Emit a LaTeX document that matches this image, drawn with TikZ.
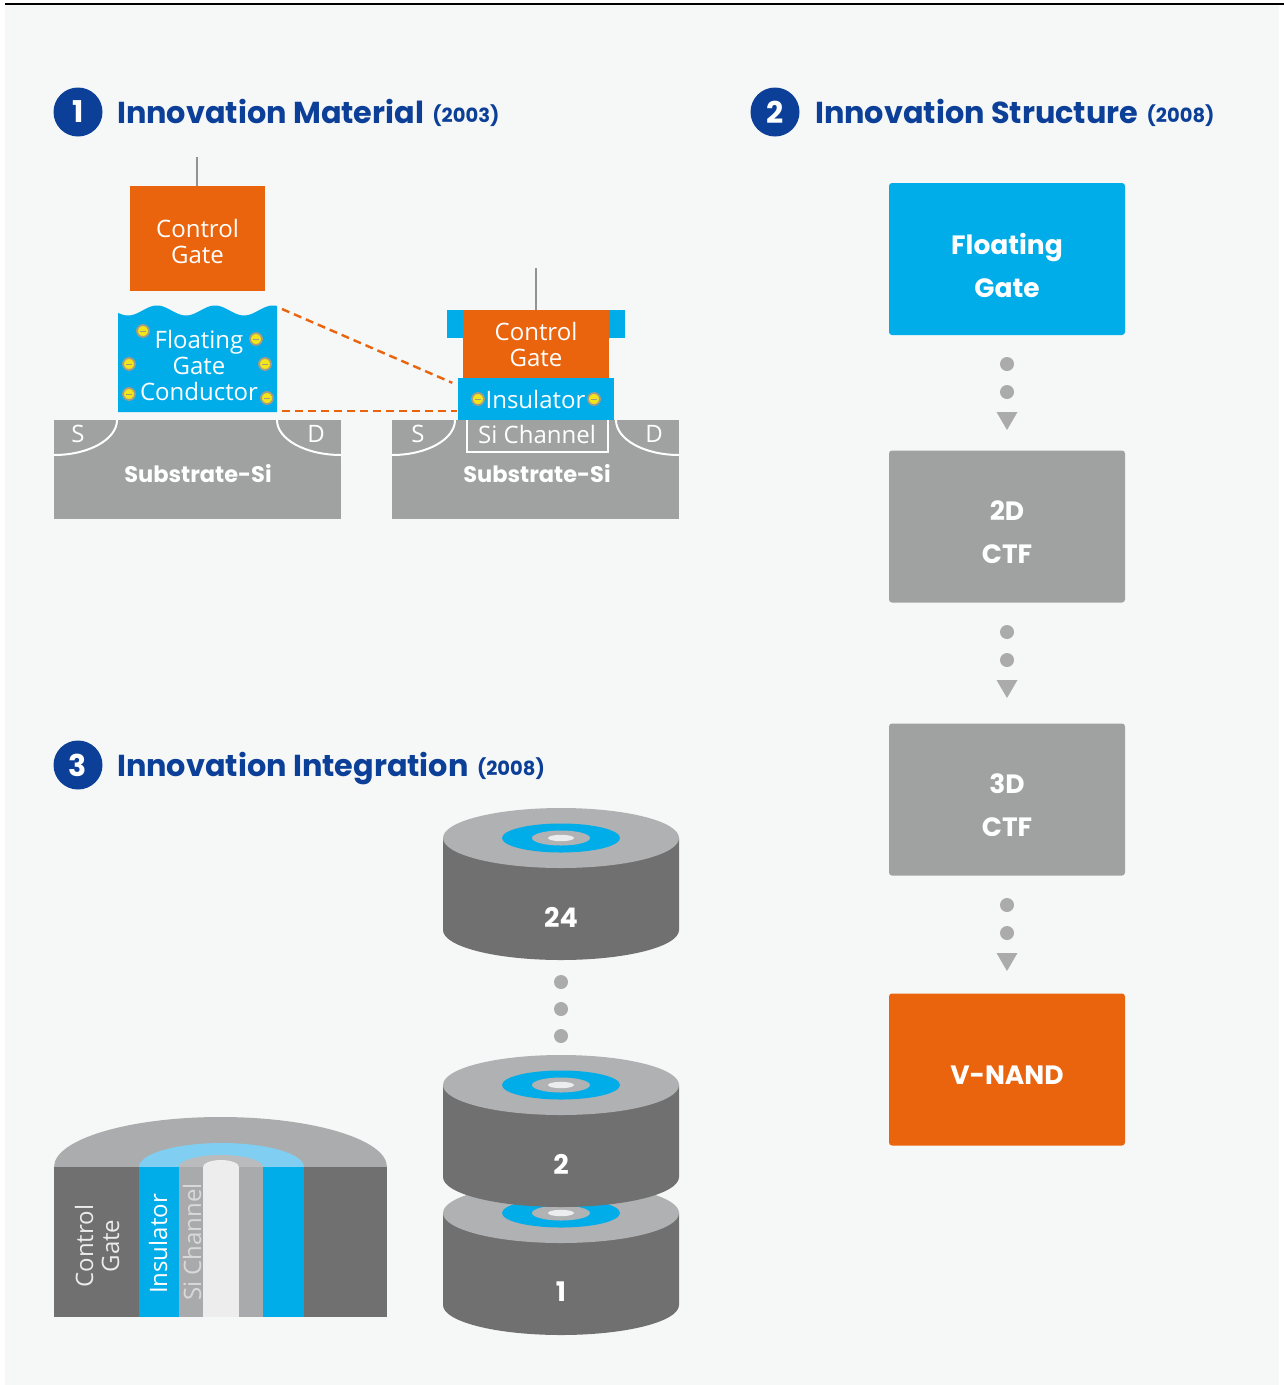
\documentclass[tikz,border=0pt]{standalone}
\usepackage{fontspec}
\setmainfont{Open Sans}
\newfontfamily\headfont{Poppins}
\usetikzlibrary{calc}

\definecolor{panelbg}{HTML}{F6F7F7}
\definecolor{headblue}{HTML}{0C3F97}
\definecolor{samorange}{HTML}{EA640E}
\definecolor{samcyan}{HTML}{00ADE9}
\definecolor{subgray}{HTML}{A0A1A1}
\definecolor{topgray}{HTML}{B0B1B2}
\definecolor{sidegray}{HTML}{707070}
\definecolor{dotgray}{HTML}{ABABAB}
\definecolor{lightcyan}{HTML}{80CEF2}
\definecolor{coregray}{HTML}{EDEDED}
\definecolor{stripgray}{HTML}{A9AAAB}
\definecolor{eyellow}{HTML}{F2E51A}
\definecolor{ering}{HTML}{A39C86}

\tikzset{
  numdisc/.style={circle, fill=headblue, minimum size=49pt, inner sep=0pt,
    text=white, font=\headfont\bfseries\fontsize{30}{30}\selectfont},
  headtext/.style={anchor=base west, text=headblue, inner sep=0pt,
    font=\headfont\bfseries\fontsize{30.3}{30}\selectfont},
  yeartext/.style={anchor=base west, text=headblue, inner sep=0pt,
    font=\headfont\bfseries\fontsize{19.5}{20}\selectfont},
  thinlabel/.style={text=white, align=center, inner sep=0pt,
    font=\fontsize{24}{26}\selectfont},
  boldlabel/.style={text=white, align=center, inner sep=0pt,
    font=\headfont\bfseries\fontsize{22.5}{26}\selectfont},
  flowbox/.style={rounded corners=3pt, minimum width=236pt, minimum height=152pt,
    inner sep=0pt},
  flowtext/.style={text=white, align=center, inner sep=0pt,
    font=\headfont\bfseries\fontsize{26.5}{43}\selectfont},
  electron/.style={circle, fill=eyellow, draw=ering, line width=1.8pt,
    minimum size=12pt, inner sep=0pt,
    path picture={\draw[ering, line width=1pt]
      ([xshift=-2.6pt]path picture bounding box.center) --
      ([xshift=2.6pt]path picture bounding box.center);}},
  junction/.style={draw=white, line width=2pt},
  linkdash/.style={draw=samorange, line width=2.4pt, dash pattern=on 8pt off 5pt},
  stepdot/.style={fill=dotgray},
  lead/.style={draw=gray!85, line width=2.4pt},
}

% one layer of the vertical stack: centre x, top-face centre y, label
\newcommand\stackdisk[3]{%
  \fill[sidegray] (#1-118,#2) -- (#1-118,#2+92)
    arc[start angle=180, end angle=0, x radius=118, y radius=30]
    -- (#1+118,#2) -- cycle;
  \fill[topgray] (#1,#2) ellipse[x radius=118, y radius=30];
  \fill[samcyan] (#1,#2) ellipse[x radius=59, y radius=14.5];
  \fill[stripgray!90!white] (#1,#2) ellipse[x radius=29, y radius=7.5];
  \fill[coregray] (#1,#2) ellipse[x radius=13, y radius=3.2];
  \node[boldlabel, font=\headfont\bfseries\fontsize{27}{28}\selectfont]
    at (#1,#2+79) {#3};
}

% the dotted arrow between two steps: start point below a box
\newcommand\stepchain[2]{%
  \fill[stepdot] (#1,#2+29) circle[radius=7];
  \fill[stepdot] (#1,#2+57) circle[radius=7];
  \fill[stepdot] (#1-10.5,#2+77) -- (#1+10.5,#2+77) -- (#1,#2+95) -- cycle;
}

\begin{document}
\begin{tikzpicture}[x=1pt, y=-1pt]
\useasboundingbox (0,0) rectangle (1284,1385);
\fill[white] (0,0) rectangle (1284,1385);
\fill[panelbg] (5,5) rectangle (1279,1385);
\draw[line width=2pt] (5,4) -- (1284,4);

% ---------- headings ----------
\node[numdisc] (n1) at (78,112) {1};
\node[headtext] (h1) at (117,123) {Innovation Material};
\node[yeartext] (y1) at ([xshift=8pt,yshift=1pt]h1.base east) {(2003)};

\node[numdisc] (n2) at (775,112) {2};
\node[headtext] (h2) at (815,123) {Innovation Structure};
\node[yeartext] (y2) at ([xshift=8pt,yshift=1pt]h2.base east) {(2008)};

\node[numdisc] (n3) at (78,765) {3};
\node[headtext] (h3) at (117,776) {Innovation Integration};
\node[yeartext] (y3) at ([xshift=8pt,yshift=1pt]h3.base east) {(2008)};

% ---------- floating-gate cell ----------
\fill[subgray] (54,420) rectangle (341,519);
\draw[junction] (117,420) arc[start angle=0, end angle=90, x radius=63, y radius=35];
\draw[junction] (277,420) arc[start angle=180, end angle=90, x radius=64, y radius=35];
\node[thinlabel] (s1) at (78,434) {S};
\node[thinlabel] (d1) at (316,434) {D};
\node[boldlabel] (sub1) at (198,474) {Substrate-Si};

\draw[lead] (197,157) -- (197,187);
\node[fill=samorange, minimum width=135pt, minimum height=105pt, inner sep=0pt]
  (cg1) at (197.5,238.5) {};
\node[thinlabel] (cg1txt) at ([yshift=-3pt]cg1.center) {Control\\Gate};

\fill[samcyan] plot[domain=118:277, samples=90]
  (\x, {310.5-5*cos(6.2069*(\x-157))}) -- (277,412) -- (118,412) -- cycle;
\coordinate (fgtop) at (282,309);
\coordinate (fgbot) at (282,411);
\node[thinlabel] (fgtxt) at (199,365) {Floating\\Gate\\Conductor};
\node[electron] (e1) at (143,331) {};
\node[electron] (e2) at (256,339) {};
\node[electron] (e3) at (129,364) {};
\node[electron] (e4) at (265,364) {};
\node[electron] (e5) at (129,394) {};
\node[electron] (e6) at (267,398) {};

% ---------- charge-trap cell ----------
\fill[subgray] (392,420) rectangle (679,519);
\draw[junction] (455,420) arc[start angle=0, end angle=90, x radius=63, y radius=35];
\draw[junction] (616,420) arc[start angle=180, end angle=90, x radius=63, y radius=35];
\draw[junction] (467,420) -- (467,452) -- (608,452) -- (608,420);
\node[thinlabel] (s2) at (418,434) {S};
\node[thinlabel] (d2) at (654,434) {D};
\node[thinlabel] (chan) at (537,434) {Si Channel};
\node[boldlabel] (sub2) at (537,474) {Substrate-Si};

\draw[lead] (536,268) -- (536,311);
\fill[samcyan] (447,310) rectangle (625,338);
\node[fill=samorange, minimum width=146pt, minimum height=68pt, inner sep=0pt,
  thinlabel] (cg2) at (536,344) {Control\\Gate};
\node[fill=samcyan, minimum width=156pt, minimum height=42pt, inner sep=0pt,
  thinlabel] (ins) at (535.5,399) {Insulator};
\node[electron] (e7) at (478,399) {};
\node[electron] (e8) at (594,399) {};

\draw[linkdash] (fgtop) -- ([shift={(-5pt,-5pt)}]ins.north west);
\draw[linkdash] (fgbot) -- (ins.west |- fgbot);

% ---------- structure steps ----------
\node[flowbox, fill=samcyan] (fg) at (1007,259) {};
\node[flowbox, fill=subgray] (ctf2) at (1007,526.5) {};
\node[flowbox, fill=subgray] (ctf3) at (1007,799.5) {};
\node[flowbox, fill=samorange] (vn) at (1007,1069.5) {};
\node[flowtext] (fgtx) at ([yshift=-6pt]fg.center) {Floating\\Gate};
\node[flowtext] (ctf2tx) at ([yshift=-6pt]ctf2.center) {2D\\CTF};
\node[flowtext] (ctf3tx) at ([yshift=-6pt]ctf3.center) {3D\\CTF};
\node[flowtext] (vntx) at ([yshift=-6pt]vn.center) {V-NAND};
\stepchain{1007}{335}
\stepchain{1007}{603}
\stepchain{1007}{876}

% ---------- vertical stack ----------
\stackdisk{561}{1213}{1}
\stackdisk{561}{1085}{2}
\fill[stepdot] (561,982) circle[radius=7];
\fill[stepdot] (561,1009) circle[radius=7];
\fill[stepdot] (561,1036) circle[radius=7];
\stackdisk{561}{838}{24}

% ---------- cut-away of one cell ----------
\fill[topgray!97!black] (54,1167) arc[start angle=180, end angle=360, x radius=166.5, y radius=50];
\fill[sidegray] (54,1167) rectangle (387,1317);
\fill[lightcyan] (139,1167) arc[start angle=180, end angle=360, x radius=82.5, y radius=24];
\fill[samcyan] (139,1167) rectangle (304,1317);
\fill[stripgray!80!white] (179,1167) arc[start angle=180, end angle=360, x radius=42, y radius=12];
\fill[stripgray] (179,1167) rectangle (263,1317);
\fill[coregray] (203,1167) arc[start angle=180, end angle=360, x radius=18, y radius=7];
\fill[coregray] (203,1167) rectangle (239,1317);
\node[thinlabel, rotate=90, text=white!92!black] (cgv) at (97,1246) {Control\\Gate};
\node[thinlabel, rotate=90] (insv) at (158,1244) {Insulator};
\node[thinlabel, rotate=90, text=white!85!black] (chv) at (192,1242) {Si Channel};
\end{tikzpicture}
\end{document}
